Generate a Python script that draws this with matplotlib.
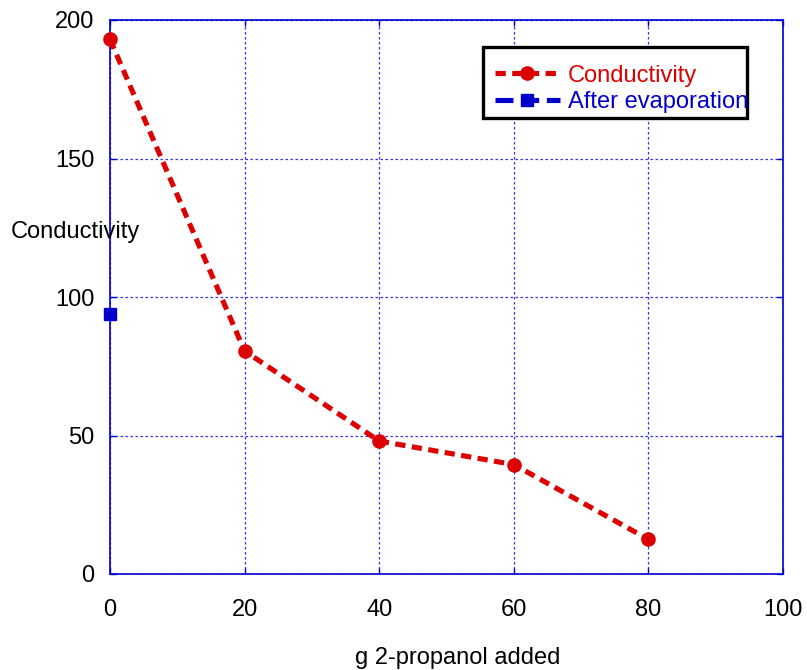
import matplotlib
matplotlib.use("Agg")
import matplotlib.pyplot as plt
from matplotlib.lines import Line2D
from matplotlib.patches import Rectangle

plt.rcParams['font.family'] = ['Liberation Sans', 'DejaVu Sans']

# Data
propanol_added = [0, 20, 40, 60, 80]
conductivity = [193, 80.5, 48, 39.5, 12.5]
evap_x = [0]
evap_conductivity = [94]

x_ticks = [0, 20, 40, 60, 80, 100]
y_ticks = [0, 50, 100, 150, 200]

RED = '#dd0000'
BLUE = '#0000cc'
FS = 17
W, H = 807, 670

fig = plt.figure(figsize=(W / 100, H / 100), dpi=100)
ax = fig.add_axes([110/W, 1 - 574/H, 673/W, 554/H])

ax.plot(propanol_added, conductivity, color=RED, linestyle=(0, (2.0, 1.25)),
        linewidth=3.7, marker='o', markersize=9.5, zorder=3, clip_on=False)
ax.plot(evap_x, evap_conductivity, color=BLUE, linestyle='none',
        marker='s', markersize=9, zorder=3, clip_on=False)

ax.set_xlim(0, 100)
ax.set_ylim(0, 200)
ax.set_xticks(x_ticks)
ax.set_yticks(y_ticks)
ax.tick_params(axis='both', direction='in', length=4, width=1, color=BLUE,
               labelsize=FS, top=True, right=True)
ax.tick_params(axis='y', pad=11)
ax.tick_params(axis='x', pad=18)
for s in ax.spines.values():
    s.set_color(BLUE)
    s.set_linewidth(1.2)
ax.grid(True, color='#3333ee', linestyle=(0, (2, 2)), linewidth=0.9)
ax.set_axisbelow(True)

fig.text(75/W, 1 - 232/H, 'Conductivity', fontsize=FS, ha='center', va='center')
fig.text(458/W, 1 - 658/H, 'g 2-propanol added', fontsize=FS, ha='center', va='center')

# Legend entries (frameless), with a separate black box drawn behind them
handles = [
    Line2D([], [], color=RED, linestyle=(0, (2.0, 1.25)), linewidth=3.7,
           marker='o', markersize=9.5),
    Line2D([], [], color=BLUE, linestyle=(0, (3.5, 1.5)), linewidth=3.7,
           marker='s', markersize=9),
]
leg = fig.legend(handles, ['Conductivity', 'After evaporation'],
                 loc='center left', bbox_to_anchor=(495/W, 1 - 89/H),
                 fontsize=FS, frameon=False, borderpad=0,
                 labelspacing=0.2, handlelength=2.75,
                 handletextpad=0.35, borderaxespad=0)
for t, c in zip(leg.get_texts(), [RED, BLUE]):
    t.set_color(c)

box = Rectangle((483/W, 1 - 118/H), (747 - 483)/W, (118 - 47)/H,
                transform=fig.transFigure, facecolor='white',
                edgecolor='black', linewidth=2.4, zorder=4)
fig.add_artist(box)
leg.set_zorder(5)

fig.savefig('out.png', dpi=100)
